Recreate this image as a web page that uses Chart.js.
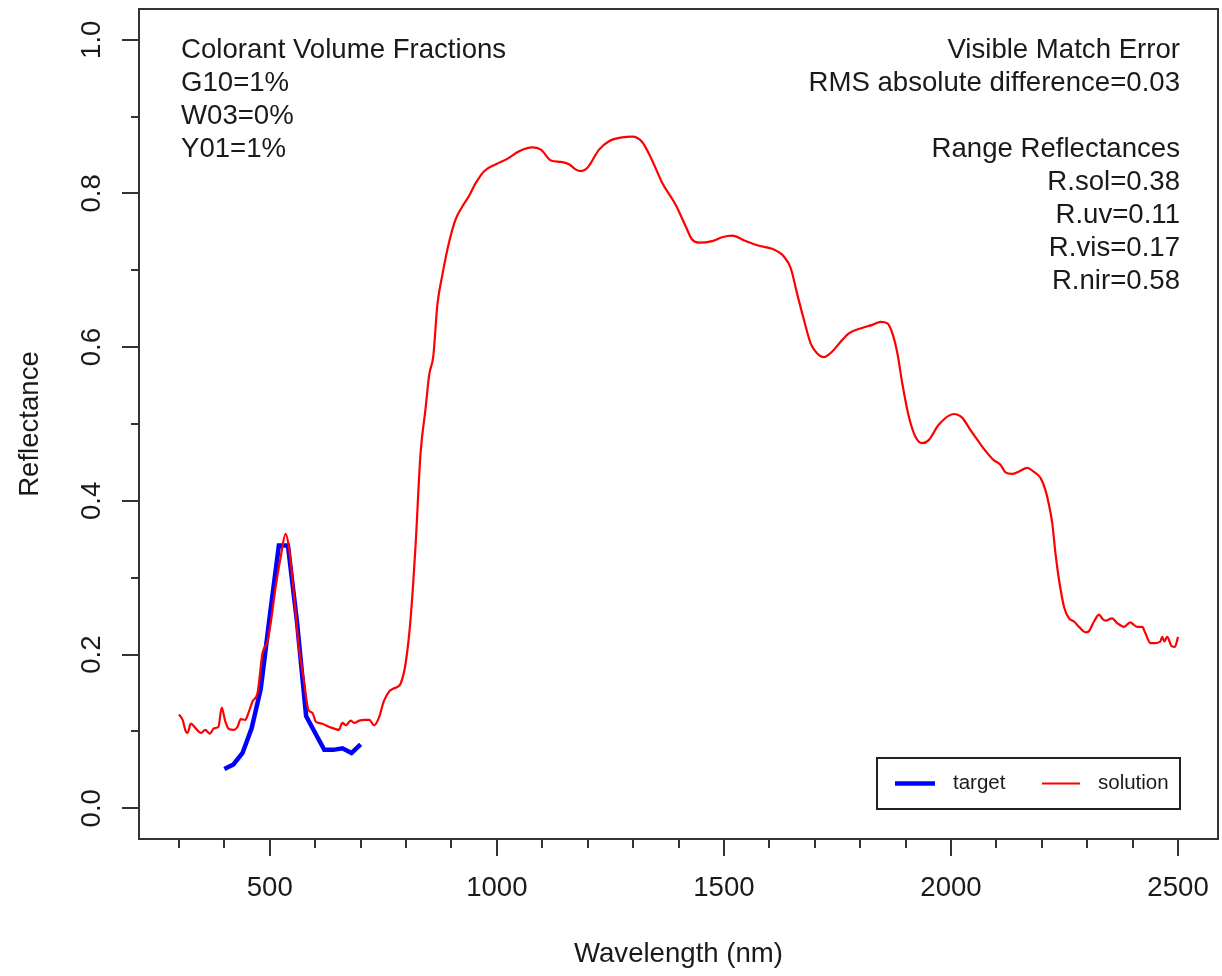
<!DOCTYPE html>
<html><head><meta charset="utf-8">
<script src="https://cdn.jsdelivr.net/npm/chart.js@4.4.0/dist/chart.umd.min.js"></script>
<style>html,body{margin:0;padding:0;background:#fff;}</style>
</head><body>
<canvas id="c" width="1222" height="976"></canvas>
<script>
const seriesNames = ['target', 'solution'];
const targetWavelength = [400,420,440,460,480,500,520,540,560,580,600,620,640,660,680,700];
const targetReflectance = [0.051,0.057,0.072,0.104,0.155,0.250,0.342,0.342,0.242,0.120,0.098,0.076,0.076,0.078,0.072,0.083];
const solutionWavelength = [300,308,315,319,326,337,348,358,368,377,387,394,402,410,421,429,436,446,453,462,473,484,495,502,513,524,535,542,553,564,575,585,594,601,616,630,645,652,660,668,678,686,697,708,719,730,741,751,763,770,781,788,799,810,821,832,843,851,860,869,880,895,909,924,939,954,972,998,1023,1049,1078,1097,1119,1141,1159,1174,1186,1199,1225,1247,1276,1298,1320,1342,1364,1394,1416,1430,1445,1474,1496,1518,1548,1577,1606,1632,1647,1661,1676,1691,1705,1720,1738,1757,1775,1804,1827,1845,1860,1871,1882,1893,1907,1922,1937,1951,1973,2006,2025,2043,2061,2076,2094,2109,2120,2135,2149,2168,2182,2197,2208,2215,2223,2230,2238,2249,2260,2271,2282,2296,2303,2315,2326,2333,2340,2355,2366,2381,2395,2402,2410,2421,2428,2439,2450,2461,2465,2470,2476,2486,2493,2500];
const solutionReflectance = [0.122,0.115,0.100,0.098,0.110,0.104,0.098,0.102,0.097,0.104,0.106,0.131,0.113,0.103,0.102,0.106,0.116,0.115,0.124,0.139,0.150,0.202,0.217,0.241,0.288,0.327,0.357,0.340,0.280,0.210,0.167,0.128,0.124,0.113,0.110,0.106,0.103,0.102,0.111,0.108,0.114,0.111,0.114,0.115,0.115,0.108,0.119,0.139,0.152,0.155,0.158,0.162,0.188,0.246,0.342,0.462,0.520,0.564,0.588,0.655,0.694,0.737,0.766,0.783,0.797,0.814,0.829,0.838,0.845,0.855,0.860,0.857,0.843,0.841,0.838,0.831,0.829,0.833,0.857,0.868,0.873,0.874,0.867,0.843,0.814,0.785,0.757,0.740,0.736,0.738,0.743,0.745,0.738,0.732,0.728,0.718,0.703,0.670,0.636,0.605,0.592,0.587,0.594,0.607,0.618,0.625,0.629,0.633,0.631,0.618,0.592,0.552,0.510,0.483,0.475,0.479,0.499,0.513,0.508,0.492,0.477,0.465,0.453,0.447,0.437,0.435,0.438,0.443,0.438,0.430,0.414,0.397,0.371,0.332,0.297,0.262,0.247,0.243,0.236,0.229,0.230,0.243,0.252,0.247,0.244,0.247,0.241,0.236,0.242,0.239,0.236,0.236,0.228,0.215,0.215,0.217,0.223,0.217,0.223,0.211,0.210,0.223];
const xTickValues = [500,1000,1500,2000,2500];
const xTickLabels = ['500','1000','1500','2000','2500'];
const xMinorTickValues = [300,400,600,700,800,900,1100,1200,1300,1400,1600,1700,1800,1900,2100,2200,2300,2400];
const yTickValues = [0,0.2,0.4,0.6,0.8,1.0];
const yTickLabels = ['0.0','0.2','0.4','0.6','0.8','1.0'];
const yMinorTickValues = [0.1,0.3,0.5,0.7,0.9];
const leftNote = ['Colorant Volume Fractions','G10=1%','W03=0%','Y01=1%'];
const rightNote = ['Visible Match Error','RMS absolute difference=0.03','','Range Reflectances','R.sol=0.38','R.uv=0.11','R.vis=0.17','R.nir=0.58'];

const FONT = '"Liberation Sans", Arial, Helvetica, sans-serif';
const FS = 27.6;
const INK = '#1a1a1a';

const toPoints = (xs, ys) => xs.map((x, i) => ({x: x, y: ys[i]}));

const decor = {
  id: 'decor',
  afterDraw(chart) {
    const ctx = chart.ctx;
    const a = chart.chartArea;
    const xs = chart.scales.x, ys = chart.scales.y;
    ctx.save();
    ctx.strokeStyle = '#333333';
    ctx.lineWidth = 2;
    ctx.strokeRect(a.left, a.top, a.right - a.left, a.bottom - a.top);
    ctx.beginPath();
    xTickValues.forEach(v => { const p = Math.round(xs.getPixelForValue(v)); ctx.moveTo(p, a.bottom); ctx.lineTo(p, a.bottom + 17); });
    xMinorTickValues.forEach(v => { const p = Math.round(xs.getPixelForValue(v)); ctx.moveTo(p, a.bottom); ctx.lineTo(p, a.bottom + 9); });
    yTickValues.forEach(v => { const p = Math.round(ys.getPixelForValue(v)); ctx.moveTo(a.left, p); ctx.lineTo(a.left - 17, p); });
    yMinorTickValues.forEach(v => { const p = Math.round(ys.getPixelForValue(v)); ctx.moveTo(a.left, p); ctx.lineTo(a.left - 8, p); });
    ctx.stroke();
    // y tick labels (rotated, R style)
    ctx.fillStyle = INK;
    ctx.font = FS + 'px ' + FONT;
    ctx.textAlign = 'center';
    ctx.textBaseline = 'middle';
    yTickValues.forEach((v, i) => {
      const p = ys.getPixelForValue(v);
      ctx.save();
      ctx.translate(a.left - 47, p);
      ctx.rotate(-Math.PI / 2);
      ctx.fillText(yTickLabels[i], 0, 0);
      ctx.restore();
    });
    // annotations
    ctx.textAlign = 'left';
    leftNote.forEach((t, i) => ctx.fillText(t, a.left + 42, a.top + 41 + i * 33));
    ctx.textAlign = 'right';
    rightNote.forEach((t, i) => ctx.fillText(t, a.right - 38, a.top + 41 + i * 33));
    // legend
    const bx0 = a.right - 341, bx1 = a.right - 38, by0 = a.bottom - 81, by1 = a.bottom - 30;
    ctx.fillStyle = '#ffffff';
    ctx.fillRect(bx0, by0, bx1 - bx0, by1 - by0);
    ctx.strokeStyle = '#222222';
    ctx.lineWidth = 2;
    ctx.strokeRect(bx0, by0, bx1 - bx0, by1 - by0);
    const ly = (by0 + by1) / 2;
    const ds = chart.data.datasets;
    const items = [{x0: bx0 + 18, x1: bx0 + 58, tx: bx0 + 76}, {x0: bx0 + 165, x1: bx0 + 203, tx: bx0 + 221}];
    ctx.font = '20.5px ' + FONT;
    ctx.textAlign = 'left';
    ctx.fillStyle = INK;
    items.forEach((it, i) => {
      ctx.strokeStyle = ds[i].borderColor;
      ctx.lineWidth = ds[i].borderWidth;
      ctx.beginPath(); ctx.moveTo(it.x0, ly); ctx.lineTo(it.x1, ly); ctx.stroke();
      ctx.fillText(ds[i].label, it.tx, ly);
    });
    ctx.restore();
  }
};

new Chart(document.getElementById('c'), {
  type: 'line',
  data: {
    datasets: [
      {label: seriesNames[0], data: toPoints(targetWavelength, targetReflectance), borderColor: '#0000FF', borderWidth: 4.5, pointRadius: 0, tension: 0, order: 1},
      {label: seriesNames[1], data: toPoints(solutionWavelength, solutionReflectance), borderColor: '#FF0000', borderWidth: 2.2, pointRadius: 0, cubicInterpolationMode: 'monotone', order: 0}
    ]
  },
  options: {
    responsive: false,
    animation: false,
    devicePixelRatio: 1,
    layout: {padding: {top: 9, right: 4, left: 0, bottom: 0}},
    plugins: {legend: {display: false}, tooltip: {enabled: false}},
    scales: {
      x: {
        type: 'linear', min: 212, max: 2588,
        afterFit(s) { s.height = 137; s.paddingLeft = 0; s.paddingRight = 0; },
        afterBuildTicks(s) { s.ticks = xTickValues.map(v => ({value: v})); },
        grid: {display: false, drawTicks: false},
        border: {display: false},
        ticks: {font: {family: FONT, size: FS}, color: INK, padding: 33, maxRotation: 0, autoSkip: false,
          callback: (v) => { const i = xTickValues.indexOf(v); return i >= 0 ? xTickLabels[i] : ''; }},
        title: {display: true, text: 'Wavelength (nm)', font: {family: FONT, size: FS}, color: INK, padding: {top: 0, bottom: 5}}
      },
      y: {
        type: 'linear', min: -0.04, max: 1.04,
        afterFit(s) { s.width = 139; s.paddingTop = 0; s.paddingBottom = 0; },
        afterBuildTicks(s) { s.ticks = yTickValues.map(v => ({value: v})); },
        grid: {display: false, drawTicks: false},
        border: {display: false},
        ticks: {display: false},
        title: {display: true, text: 'Reflectance', font: {family: FONT, size: FS}, color: INK, padding: {top: 14, bottom: 0}}
      }
    }
  },
  plugins: [decor]
});
</script>
</body></html>
